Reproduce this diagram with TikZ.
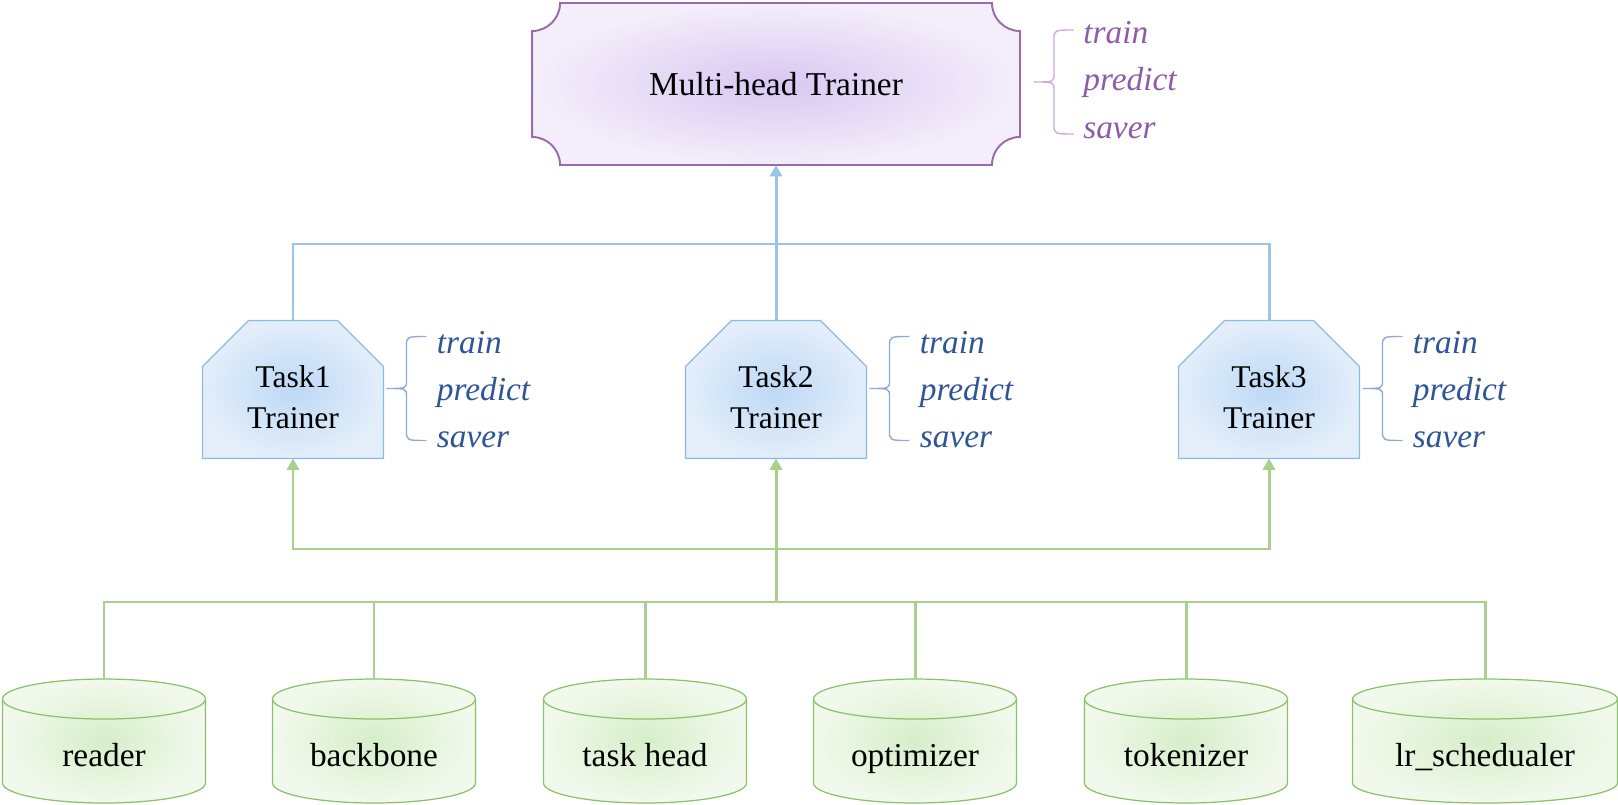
\documentclass[tikz,border=0pt]{standalone}
\usepackage{fontspec}
\setmainfont{Liberation Serif}
\usetikzlibrary{shapes.misc, arrows.meta, positioning, calc, backgrounds}
\definecolor{mhline}{HTML}{9A6AAE}
\definecolor{mhtext}{HTML}{8E5BA8}
\definecolor{mhbrace}{HTML}{C9AEDB}
\definecolor{mhin}{HTML}{D9C7F2}
\definecolor{mhout}{HTML}{F3EEFA}
\definecolor{bluelc}{HTML}{9DC3E6}
\definecolor{bluebd}{HTML}{8DB8E3}
\definecolor{bluebrace}{HTML}{8EAADB}
\definecolor{bluetext}{HTML}{2F5597}
\definecolor{bluein}{HTML}{BDD9F5}
\definecolor{blueout}{HTML}{E3EEFA}
\definecolor{greenlc}{HTML}{A9D18E}
\definecolor{greenbd}{HTML}{8CC16A}
\definecolor{greenin}{HTML}{D6EEC9}
\definecolor{greenout}{HTML}{F1F9EC}

\tikzset{
  headbox/.style={minimum width=9.76cm, minimum height=3.24cm, inner sep=0pt, outer sep=0pt, font=\fontsize{19}{23}\selectfont},
  trainer/.style={chamfered rectangle, chamfered rectangle corners={north west, north east},
    chamfered rectangle xsep=0.46cm, chamfered rectangle ysep=0.46cm,
    draw=bluebd, line width=0.7pt, shade, inner color=bluein, outer color=blueout,
    minimum width=3.62cm, minimum height=2.76cm, inner sep=0pt, outer sep=0pt,
    align=center, text height=44pt, font=\fontsize{18}{23}\selectfont},
  part/.style={minimum width=4.06cm, minimum height=2.48cm, inner sep=0pt, outer sep=0pt,
    anchor=south, text height=28.5pt, text depth=0pt, font=\fontsize{19}{23}\selectfont},
  partbody/.style={draw=greenbd, line width=0.7pt},
  op/.style={anchor=base west, inner sep=0pt, text=bluetext, font=\fontsize{19}{23}\selectfont\itshape},
  headop/.style={op, text=mhtext},
  opbrace/.style={draw=bluebrace, line width=0.8pt},
  blueline/.style={draw=bluelc, line width=1.7pt},
  greenline/.style={draw=greenlc, line width=1.7pt},
}
% curly brace, tip at the origin of the current scope
\newcommand\bracepath{(40,52) .. controls (20,52) .. (20,42) -- (20,8) .. controls (20,0) .. (0,0)
  .. controls (20,0) .. (20,-8) -- (20,-42) .. controls (20,-52) .. (40,-52)}

\begin{document}
\begin{tikzpicture}[x=0.02cm, y=0.02cm, >={Triangle[length=6.5pt, width=7pt]}]
\useasboundingbox (0,0) rectangle (1618,-804);

% multi-head trainer
\node[headbox] (mh) at (776,-84) {Multi-head Trainer};
\begin{scope}[on background layer]
  \def\nr{0.56cm}
  \shade[draw=mhline, line width=1.1pt, inner color=mhin, outer color=mhout]
    ([xshift=\nr]mh.north west) -- ([xshift=-\nr]mh.north east)
    arc[start angle=180, end angle=270, radius=\nr]
    -- ([yshift=\nr]mh.south east)
    arc[start angle=90, end angle=180, radius=\nr]
    -- ([xshift=\nr]mh.south west)
    arc[start angle=0, end angle=90, radius=\nr]
    -- ([yshift=-\nr]mh.north west)
    arc[start angle=270, end angle=360, radius=\nr] -- cycle;
\end{scope}
\begin{scope}[shift={($(mh.east)+(14,2)$)}]
  \draw[opbrace, draw=mhbrace] \bracepath;
\end{scope}
\node[headop] (mh-tr) at ($(mh.east)+(63,40)$) {train};
\node[headop] (mh-pr) at ($(mh.east)+(63,-7)$) {predict};
\node[headop] (mh-sv) at ($(mh.east)+(63,-55)$) {saver};

% task trainers
\foreach \i/\x in {1/293, 2/776, 3/1269} {
  \node[trainer] (t\i) at (\x,-389.5) {Task\i\\Trainer};
  \begin{scope}[shift={($(t\i.east)+(3,1)$)}]
    \draw[opbrace] \bracepath;
  \end{scope}
  \node[op] (t\i-tr) at ($(t\i.east)+(53,36.5)$) {train};
  \node[op] (t\i-pr) at ($(t\i.east)+(53,-10.5)$) {predict};
  \node[op] (t\i-sv) at ($(t\i.east)+(53,-57.5)$) {saver};
}

% components
\foreach \n/\x/\txt in {c1/104/reader, c2/374/backbone, c3/645/task head, c4/915/optimizer, c5/1186/tokenizer} {
  \node[part] (\n) at (\x,-803) {\txt};
}
\node[part, minimum width=5.3cm] (c6) at (1485,-803) {lr\_schedualer};
\begin{scope}[on background layer]
  \foreach \cyl/\rx in {c1/2.03, c2/2.03, c3/2.03, c4/2.03, c5/2.03, c6/2.65} {
    \shade[partbody, inner color=greenin, outer color=greenout]
      ([yshift=-0.4cm]\cyl.north west) -- ([yshift=0.4cm]\cyl.south west)
      arc[start angle=180, end angle=360, x radius=\rx cm, y radius=0.4cm]
      -- ([yshift=-0.4cm]\cyl.north east)
      arc[start angle=0, end angle=180, x radius=\rx cm, y radius=0.4cm] -- cycle;
    \draw[partbody] ([yshift=-0.4cm]\cyl.north west)
      arc[start angle=180, end angle=360, x radius=\rx cm, y radius=0.4cm];
  }
\end{scope}

% connectors
\coordinate (bj) at (776,-244);
\draw[blueline] (t1.north) |- (bj) -| (t3.north);
\draw[blueline,->] (t2.north) -- (mh.south);

\coordinate (bus) at (776,-602);
\coordinate (gj) at (776,-549);
\draw[greenline] (c1.north) |- (bus) -| (c6.north);
\foreach \n in {c2,c3,c4,c5}
  \draw[greenline] (\n.north) -- (\n.north |- bus);
\draw[greenline,->] (bus) -- (t2.south);
\draw[greenline,->] (gj) -| (t1.south);
\draw[greenline,->] (gj) -| (t3.south);
\end{tikzpicture}
\end{document}
